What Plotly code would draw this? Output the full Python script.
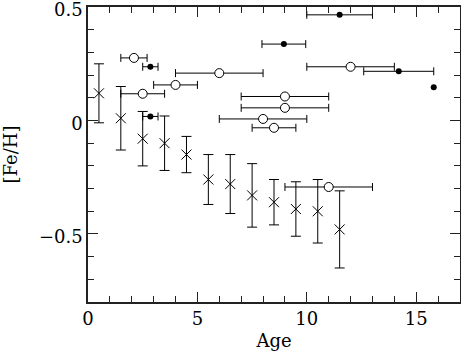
import plotly.graph_objects as go

# Crosses: mean [Fe/H] per age bin with vertical error bars
cross_age = [0.5, 1.5, 2.5, 3.5, 4.5, 5.5, 6.5, 7.5, 8.5, 9.5, 10.5, 11.5]
cross_feh = [0.12, 0.01, -0.08, -0.10, -0.15, -0.26, -0.28, -0.33, -0.36, -0.39, -0.40, -0.48]
cross_err = [0.13, 0.14, 0.12, 0.12, 0.08, 0.11, 0.13, 0.14, 0.10, 0.12, 0.14, 0.17]

# Open circles with horizontal (age) error bars
open_age = [2.1, 6.0, 4.0, 2.5, 12.0, 9.0, 9.0, 8.0, 8.5, 11.0]
open_feh = [0.276, 0.209, 0.157, 0.118, 0.237, 0.106, 0.056, 0.007, -0.032, -0.293]
open_age_err = [0.6, 2.0, 1.0, 1.0, 2.0, 2.0, 2.0, 2.0, 1.0, 2.0]

# Filled circles with horizontal (age) error bars
filled_age = [2.85, 2.85, 11.5, 8.95, 14.2]
filled_feh = [0.237, 0.018, 0.466, 0.337, 0.217]
filled_age_err = [0.35, 0.35, 1.5, 1.0, 1.6]

# Filled circle without an error bar
single_age = [15.8]
single_feh = [0.147]

x_ticks = [0, 5, 10, 15]
y_ticks = [-0.5, 0, 0.5]
y_ticktext = ["\u22120.5", "0", "0.5"]

FONT = "DejaVu Serif"

fig = go.Figure()

fig.add_trace(go.Scatter(
    x=cross_age, y=cross_feh, mode="markers",
    marker=dict(symbol="x-thin-open", size=10, color="black", line=dict(width=1, color="black")),
    error_y=dict(type="data", array=cross_err, visible=True, color="black", thickness=1, width=5),
    showlegend=False,
))

fig.add_trace(go.Scatter(
    x=open_age, y=open_feh, mode="markers",
    marker=dict(symbol="circle", size=9, color="white", line=dict(width=1, color="black")),
    error_x=dict(type="data", array=open_age_err, visible=True, color="black", thickness=1, width=4),
    showlegend=False,
))

fig.add_trace(go.Scatter(
    x=filled_age, y=filled_feh, mode="markers",
    marker=dict(symbol="circle", size=6, color="black", line=dict(width=0)),
    error_x=dict(type="data", array=filled_age_err, visible=True, color="black", thickness=1, width=4),
    showlegend=False,
))

fig.add_trace(go.Scatter(
    x=single_age, y=single_feh, mode="markers",
    marker=dict(symbol="circle", size=6, color="black", line=dict(width=0)),
    showlegend=False,
))

axis_common = dict(
    showgrid=False, zeroline=False, showline=True, linecolor="#222", linewidth=1.5,
    mirror="allticks", ticks="inside", ticklen=10, tickwidth=1.2, tickcolor="#222",
    tickfont=dict(family=FONT, size=18, color="black"),
    ticklabeloverflow="allow",
)

fig.update_xaxes(
    range=[0, 17], tickvals=x_ticks,
    minor=dict(dtick=1, ticks="inside", ticklen=6, tickwidth=1, tickcolor="#222"),
    title=dict(text="Age", font=dict(family=FONT, size=18, color="black"), standoff=6),
    **axis_common,
)
fig.update_yaxes(
    range=[-0.8, 0.5005], tickvals=y_ticks, ticktext=y_ticktext,
    ticklabelshift=3,
    minor=dict(dtick=0.1, ticks="inside", ticklen=6, tickwidth=1, tickcolor="#222"),
    title=dict(text="[Fe/H]", font=dict(family=FONT, size=18, color="black"), standoff=19),
    **axis_common,
)

fig.update_layout(
    width=461, height=351,
    margin=dict(l=88, r=1, t=7, b=49, autoexpand=False),
    paper_bgcolor="white", plot_bgcolor="white",
)

fig.write_html(
    "out.html",
    config={"displayModeBar": False},
    post_script="document.body.style.margin='0';document.body.style.padding='0';",
)
